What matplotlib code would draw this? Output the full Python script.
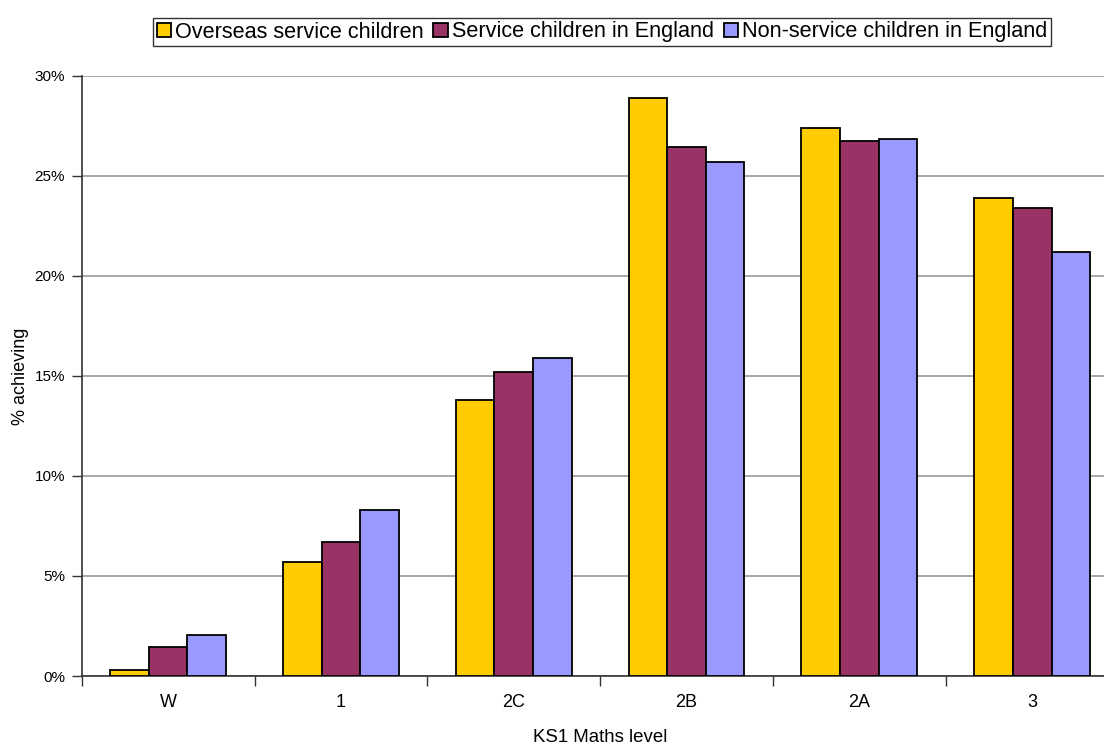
import matplotlib
matplotlib.use("Agg")
import matplotlib.pyplot as plt
import numpy as np
from matplotlib.ticker import FixedLocator, PercentFormatter

categories = ["W", "1", "2C", "2B", "2A", "3"]
series_names = ["Overseas service children", "Service children in England",
                "Non-service children in England"]
overseas = [0.3, 5.7, 13.8, 28.9, 27.4, 23.9]
service_eng = [1.45, 6.7, 15.2, 26.45, 26.75, 23.4]
nonservice_eng = [2.05, 8.3, 15.9, 25.7, 26.85, 21.2]
colors = ["#FFCC00", "#993366", "#9999FF"]

plt.rcParams['font.family'] = ['Liberation Sans', 'DejaVu Sans']

W, H = 1104, 749
fig = plt.figure(figsize=(W / 100, H / 100), dpi=100)
left, right, bottom, top = 81.7, 1118.6, 676.0, 75.5
ax = fig.add_axes([left / W, 1 - bottom / H, (right - left) / W, (bottom - top) / H])

x = np.arange(len(categories))
bw = 0.2235
for i, (vals, name, c) in enumerate(zip([overseas, service_eng, nonservice_eng], series_names, colors)):
    ax.bar(x + (i - 1) * bw, vals, width=bw, color=c, edgecolor="black",
           linewidth=1.3, label=name, zorder=3)

ax.set_xlim(-0.5, len(categories) - 0.5)
ax.set_ylim(0, 30)
ax.yaxis.set_major_locator(FixedLocator([0, 5, 10, 15, 20, 25, 30]))
ax.yaxis.set_major_formatter(PercentFormatter(decimals=0))
ax.grid(axis="y", color="#999999", linewidth=1.2, zorder=0)
ax.set_xticks(x)
ax.set_xticklabels(categories)
ax.set_xticks(np.arange(-0.5, len(categories) + 0.5, 1), minor=True)
ax.tick_params(axis="x", which="major", length=0, pad=13, labelsize=13)
ax.tick_params(axis="x", which="minor", length=7, width=1, color="#333333")
ax.tick_params(axis="y", length=7, width=1, color="#333333", labelsize=11, pad=5)
for s in ["top", "right"]:
    ax.spines[s].set_visible(False)
for s in ["left", "bottom"]:
    ax.spines[s].set_color("#333333")
    ax.spines[s].set_linewidth(1.2)

fig.text(600 / W, 1 - 738 / H, "KS1 Maths level", ha="center", va="center", fontsize=13.4)
fig.text(21 / W, 1 - 376 / H, "% achieving", ha="center", va="center", rotation=90, fontsize=13)

leg = fig.legend(loc="center", bbox_to_anchor=(602 / W, 1 - 32 / H), ncol=3, fontsize=15.6,
                 frameon=True, fancybox=False, edgecolor="black", borderpad=0.15,
                 handlelength=0.65, handleheight=0.65, handletextpad=0.2, columnspacing=0.45,
                 borderaxespad=0)
leg.get_frame().set_linewidth(1.0)

fig.savefig("out.png", dpi=100)
